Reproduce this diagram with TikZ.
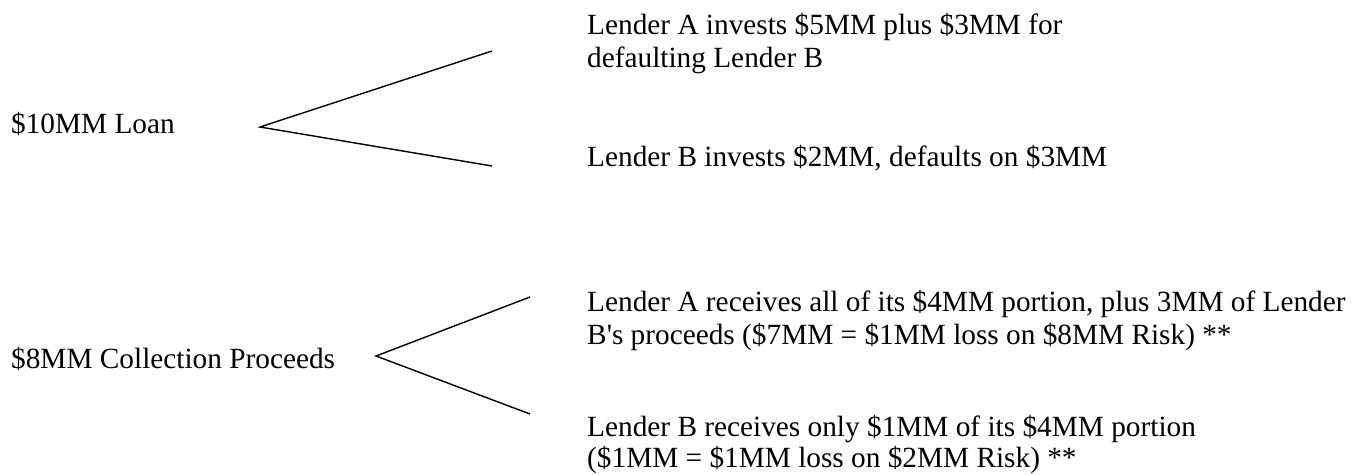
\documentclass[tikz,border=0pt]{standalone}
\usepackage{fontspec}
\setmainfont{Liberation Serif}
\newcommand{\sq}{\XeTeXglyph\XeTeXglyphindex "quotesingle"\relax}
\begin{document}
\begin{tikzpicture}[x=1pt,y=-1pt,
  lbl/.style={anchor=base west,inner sep=0pt,font=\fontsize{29.3}{33}\selectfont},
  br/.style={line width=1.4pt}]
\useasboundingbox (0,0) rectangle (1364,474);
\node[lbl] (loan) at (11,133) {\$10MM Loan};
\coordinate (a1) at (260,127);
\coordinate (a1u) at (492,51);
\coordinate (a1d) at (492,166);
\draw[br] (a1u) -- (a1) -- (a1d);
\node[lbl] (la1) at (587,34) {Lender A invests \$5MM plus \$3MM for};
\node[lbl] (la2) at (587,67) {defaulting Lender B};
\node[lbl] (lb) at (587,166) {Lender B invests \$2MM, defaults on \$3MM};
\node[lbl] (proc) at (11,368) {\$8MM Collection Proceeds};
\coordinate (a2) at (376,356);
\coordinate (a2u) at (530,297);
\coordinate (a2d) at (530,414);
\draw[br] (a2u) -- (a2) -- (a2d);
\node[lbl] (ra1) at (587,311) {Lender A receives all of its \$4MM portion, plus 3MM of Lender};
\node[lbl] (ra2) at (587,344) {B\sq s proceeds (\$7MM = \$1MM loss on \$8MM Risk) **};
\node[lbl] (rb1) at (587,436) {Lender B receives only \$1MM of its \$4MM portion};
\node[lbl] (rb2) at (587,467) {(\$1MM = \$1MM loss on \$2MM Risk) **};
\end{tikzpicture}
\end{document}
